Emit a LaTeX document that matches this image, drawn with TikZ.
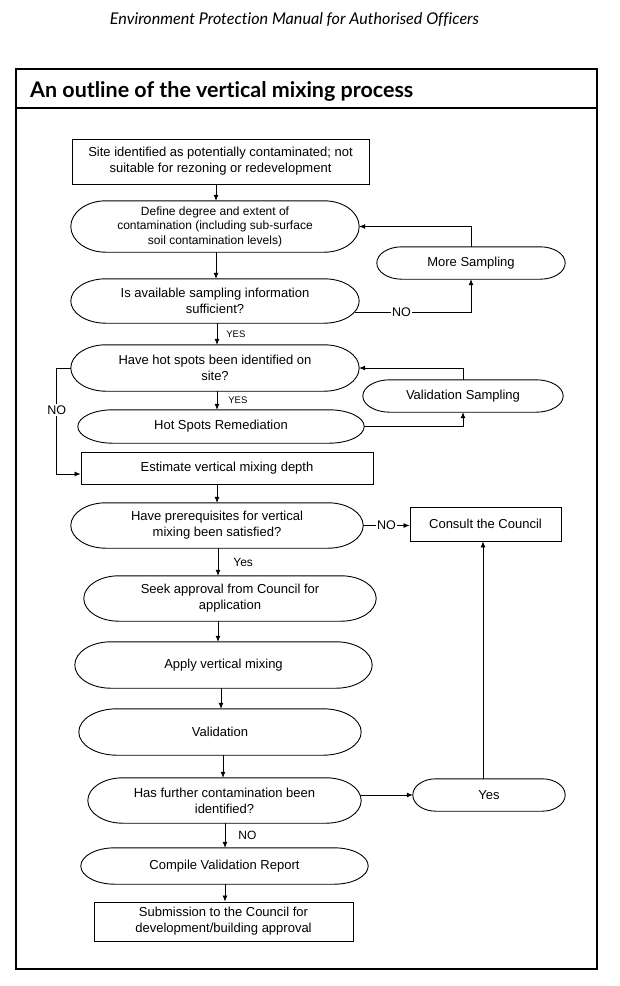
\documentclass[tikz,border=0pt]{standalone}
\usepackage{fontspec}
\usepackage{graphicx}
\setmainfont{Liberation Sans}
\newfontfamily\gillfont{Lato}[Ligatures={NoCommon,NoRare,NoContextual}]
\usetikzlibrary{arrows.meta,calc}

\tikzset{
  every node/.style={inner sep=0pt},
  t13/.style={font=\fontsize{13}{16}\selectfont, align=center},
  rectbox/.style={t13, draw, line width=0.9pt},
  ovalnode/.style={t13},
  ovalline/.style={line width=0.9pt},
  arr/.style={line width=0.8pt, -{Latex[length=6pt,width=5pt]}},
  lblbig/.style={font=\fontsize{12.5}{14}\selectfont, fill=white, inner sep=1.5pt},
  lblmid/.style={font=\fontsize{12}{14}\selectfont},
  lblsmall/.style={font=\fontsize{9.5}{11}\selectfont},
  frameline/.style={line width=1.4pt},
}

\newcommand\ovalshape[2]{%
  \draw[ovalline] ($(#1.north west)+(#2,0)$) -- ($(#1.north east)+(-#2,0)$)
   .. controls ($(#1.north east)+(-0.448*#2,0)$) and ($(#1.north east)!0.448!(#1.east)$) .. (#1.east)
   .. controls ($(#1.south east)!0.448!(#1.east)$) and ($(#1.south east)+(-0.448*#2,0)$) .. ($(#1.south east)+(-#2,0)$)
   -- ($(#1.south west)+(#2,0)$)
   .. controls ($(#1.south west)+(0.448*#2,0)$) and ($(#1.south west)!0.448!(#1.west)$) .. (#1.west)
   .. controls ($(#1.north west)!0.448!(#1.west)$) and ($(#1.north west)+(0.448*#2,0)$) .. ($(#1.north west)+(#2,0)$);}

\begin{document}
\begin{tikzpicture}[x=1pt,y=-1pt]
\useasboundingbox (0,0) rectangle (620,986);
\fill[white] (0,0) rectangle (620,986);

% header and frame
\node[anchor=base] (hdr) at (294.5,24) {\resizebox{369pt}{!}{\gillfont\itshape Environment Protection Manual for Authorised Officers}};
\draw[frameline] (16,69) rectangle (597,969);
\draw[frameline] (16,108) -- (597,108);
\node[anchor=base west] (ttl) at (30,97) {\resizebox{383pt}{!}{\gillfont\bfseries An outline of the vertical mixing process}};

% nodes
\node[rectbox, minimum width=297pt, minimum height=45pt] (site) at (220.5,161.5) {Site identified as potentially contaminated; not\\suitable for rezoning or redevelopment};
\node[ovalnode, minimum width=288pt, minimum height=51pt, font=\fontsize{12}{14.5}\selectfont] (define) at (215,226.5) {Define degree and extent of\\contamination (including sub-surface\\soil contamination levels)};
\node[ovalnode, minimum width=188pt, minimum height=32pt] (more) at (471,263) {More Sampling};
\node[ovalnode, minimum width=288pt, minimum height=44pt] (avail) at (215,301) {Is available sampling information\\sufficient?};
\node[ovalnode, minimum width=288pt, minimum height=46pt] (hot) at (215,368) {Have hot spots been identified on\\site?};
\node[ovalnode, minimum width=200pt, minimum height=32pt] (valsamp) at (463,396) {Validation Sampling};
\node[ovalnode, minimum width=286pt, minimum height=33pt] (remed) at (221,426.5) {Hot Spots Remediation};
\node[rectbox, minimum width=292pt, minimum height=32pt] (depth) at (227,468) {Estimate vertical mixing depth};
\node[ovalnode, minimum width=292pt, minimum height=45pt] (prereq) at (217,525.5) {Have prerequisites for vertical\\mixing been satisfied?};
\node[rectbox, minimum width=151pt, minimum height=34pt] (council) at (485.5,524) {Consult the Council};
\node[ovalnode, minimum width=292pt, minimum height=45pt] (seek) at (230,598.5) {Seek approval from Council for\\application};
\node[ovalnode, minimum width=297pt, minimum height=46pt] (apply) at (223.5,665) {Apply vertical mixing};
\node[ovalnode, minimum width=282pt, minimum height=46pt] (valid) at (220,732) {Validation};
\node[ovalnode, minimum width=273pt, minimum height=45pt] (further) at (224.5,800.5) {Has further contamination been\\identified?};
\node[ovalnode, minimum width=152pt, minimum height=32pt] (yes) at (489,795) {Yes};
\node[ovalnode, minimum width=287pt, minimum height=36pt] (report) at (224.5,866) {Compile Validation Report};
\node[rectbox, minimum width=259pt, minimum height=39pt] (submit) at (223.5,921.5) {Submission to the Council for\\development/building approval};

% oval outlines
\ovalshape{define}{35}
\ovalshape{more}{25}
\ovalshape{avail}{35}
\ovalshape{hot}{35}
\ovalshape{valsamp}{27}
\ovalshape{remed}{35}
\ovalshape{prereq}{35}
\ovalshape{seek}{35}
\ovalshape{apply}{36}
\ovalshape{valid}{38}
\ovalshape{further}{35}
\ovalshape{yes}{23}
\ovalshape{report}{34}

% connectors
\draw[arr] (site.south -| 216,0) -- (define.north -| 216,0);
\draw[arr] (define.south -| 216,0) -- (avail.north -| 216,0);
\draw[arr] (more.north) |- (define.east);
\coordinate (avno) at ($(avail.east)+(-4,11)$);
\draw[arr] (avno) -| node[lblbig, pos=0.2]{NO} (more.south);
\draw[arr] (avail.south -| 217,0) -- node[right=9pt, lblsmall]{YES} (hot.north -| 217,0);
\draw[arr] (valsamp.north) |- (hot.east);
\draw[arr] (hot.south -| 217,0) -- node[right=11pt, lblsmall]{YES} (remed.north -| 217,0);
\draw[arr] (remed.east) -| (valsamp.south);
\draw[arr] (hot.west) -- ++(-14,0) |- node[lblbig, pos=0.2]{NO} ([yshift=-6pt]depth.west);
\draw[arr] (depth.south -| 217,0) -- (prereq.north -| 217,0);
\draw[arr] (prereq.east) -- node[lblbig]{NO} (prereq.east -| council.west);
\draw[arr] (prereq.south -| 218,0) -- node[right=15pt, lblmid]{Yes} (seek.north -| 218,0);
\draw[arr] (seek.south -| 218,0) -- (apply.north -| 218,0);
\draw[arr] (apply.south -| 221,0) -- (valid.north -| 221,0);
\draw[arr] (valid.south -| 223,0) -- (further.north -| 223,0);
\draw[arr] (yes.west -| further.east) -- (yes.west);
\draw[arr] (yes.north -| 483,0) -- (council.south -| 483,0);
\draw[arr] (further.south -| 225,0) -- node[right=13pt, lblmid]{NO} (report.north -| 225,0);
\draw[arr] (report.south -| 225,0) -- (submit.north -| 225,0);
\end{tikzpicture}
\end{document}
